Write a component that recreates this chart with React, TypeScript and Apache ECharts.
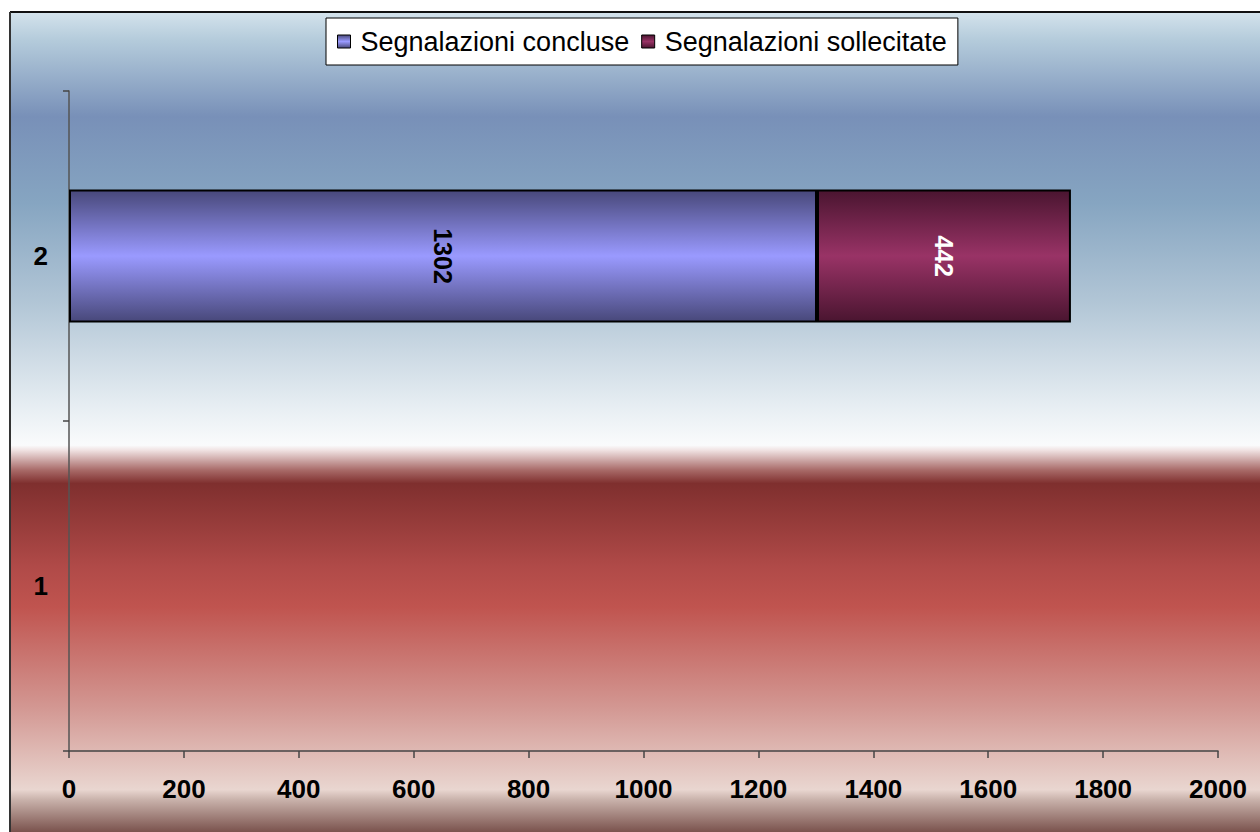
import React, { useEffect, useRef } from "react";
import * as echarts from "echarts";

const categories = ["1", "2"];
const seriesNames = ["Segnalazioni concluse", "Segnalazioni sollecitate"];
const concluse: (number | string)[] = ["-", 1302];
const sollecitate: (number | string)[] = ["-", 442];
const xTicks = { min: 0, max: 2000, interval: 200 };

const vgrad = (stops: [number, string][]) =>
  new echarts.graphic.LinearGradient(
    0,
    0,
    0,
    1,
    stops.map(([offset, color]) => ({ offset, color }))
  );

const FONT = "Liberation Sans, Arial, sans-serif";

export default function App() {
  const ref = useRef<HTMLDivElement>(null);
  useEffect(() => {
    if (!ref.current) return;
    const chart = echarts.init(ref.current, null, { renderer: "svg" });
    const blueFill = vgrad([
      [0, "#48487a"],
      [0.5, "#9a9aff"],
      [1, "#48487a"],
    ]);
    const redFill = vgrad([
      [0, "#4a1530"],
      [0.5, "#993366"],
      [1, "#4a1530"],
    ]);
    const bg = vgrad([
      [0, "#d4e3ec"],
      [0.034, "#b4cbdb"],
      [0.126, "#7890b8"],
      [0.23, "#86a5c1"],
      [0.351, "#b2c6d6"],
      [0.473, "#e6edf2"],
      [0.522, "#fafbfc"],
      [0.528, "#f0e2e2"],
      [0.552, "#a86a68"],
      [0.568, "#7f2f2e"],
      [0.668, "#b04a48"],
      [0.717, "#c0544f"],
      [0.839, "#d39893"],
      [0.937, "#e9d6d0"],
      [0.949, "#c9b2ab"],
      [1, "#623530"],
    ]);
    chart.setOption({
      animation: false,
      graphic: [
        {
          type: "rect",
          z: -100,
          silent: true,
          shape: { x: 10, y: 12, width: 1260, height: 830 },
          style: { fill: bg },
        },
        {
          type: "line",
          z: -99,
          silent: true,
          shape: { x1: 10, y1: 12, x2: 1260, y2: 12 },
          style: { stroke: "#111", lineWidth: 2 },
        },
        {
          type: "line",
          z: -99,
          silent: true,
          shape: { x1: 10, y1: 12, x2: 10, y2: 832 },
          style: { stroke: "#333", lineWidth: 2 },
        },
      ],
      legend: {
        data: seriesNames,
        icon: "rect",
        left: 326,
        top: 18,
        padding: [10, 11, 10, 11],
        itemGap: 12,
        itemWidth: 13,
        itemHeight: 13,
        itemStyle: { borderColor: "#000", borderWidth: 1 },
        backgroundColor: "#ffffff",
        borderColor: "#000000",
        borderWidth: 1,
        borderRadius: 0,
        textStyle: {
          fontFamily: FONT,
          fontSize: 27,
          color: "#000",
          padding: [0, 0, 0, 5],
        },
      },
      grid: { left: 69, right: 42, top: 91, bottom: 81, containLabel: false },
      xAxis: {
        type: "value",
        min: xTicks.min,
        max: xTicks.max,
        interval: xTicks.interval,
        splitLine: { show: false },
        axisLine: { show: true, lineStyle: { color: "#444", width: 1.5 } },
        axisTick: { show: true, length: 7, lineStyle: { color: "#444", width: 1.5 } },
        axisLabel: {
          margin: 25,
          formatter: (v: number) => String(v),
          fontFamily: FONT,
          fontSize: 26,
          fontWeight: "bold",
          color: "#000",
        },
      },
      yAxis: {
        type: "category",
        data: categories,
        axisLine: { show: true, lineStyle: { color: "#555", width: 1.5 } },
        axisTick: { show: true, length: 6, lineStyle: { color: "#444", width: 1.5 } },
        axisLabel: {
          margin: 21,
          fontFamily: FONT,
          fontSize: 26,
          fontWeight: "bold",
          color: "#000",
        },
        splitLine: { show: false },
      },
      series: [
        {
          name: seriesNames[0],
          type: "bar",
          stack: "total",
          barWidth: "40.3%",
          data: concluse,
          itemStyle: { color: blueFill, borderColor: "#000", borderWidth: 2 },
          label: {
            show: true,
            position: "inside",
            rotate: -90,
            fontFamily: FONT,
            fontSize: 25,
            fontWeight: "bold",
            color: "#000",
          },
        },
        {
          name: seriesNames[1],
          type: "bar",
          stack: "total",
          barWidth: "40.3%",
          data: sollecitate,
          itemStyle: { color: redFill, borderColor: "#000", borderWidth: 2 },
          label: {
            show: true,
            position: "inside",
            rotate: -90,
            fontFamily: FONT,
            fontSize: 25,
            fontWeight: "bold",
            color: "#fff",
          },
        },
      ],
    });
    return () => chart.dispose();
  }, []);
  return (
    <div
      ref={ref}
      style={{ position: "fixed", left: 0, top: 0, width: 1260, height: 832, background: "#fff" }}
    />
  );
}
